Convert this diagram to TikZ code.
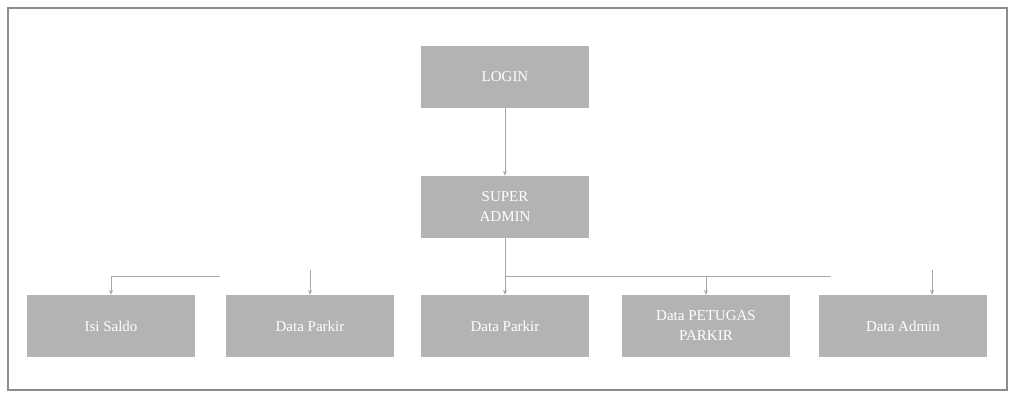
\documentclass[tikz,border=0pt]{standalone}
\usepackage{fontspec}
\setmainfont{Liberation Serif}
\usetikzlibrary{arrows.meta}
\definecolor{boxgray}{HTML}{B3B3B3}
\definecolor{framegray}{HTML}{8C8C8C}
\definecolor{linegray}{HTML}{A8A8A8}
\begin{document}
\begin{tikzpicture}[x=1pt,y=-1pt,
  menubox/.style={draw=none,fill=boxgray,minimum width=168pt,minimum height=62pt,
    inner sep=2pt,text=white,align=center,font=\fontsize{15}{20}\selectfont},
  conn/.style={draw=linegray,line width=0.8pt},
  arr/.style={conn,-{Stealth[length=5pt,width=4pt]}}]
\useasboundingbox (0,0) rectangle (1012,395);
\fill[white] (0,0) rectangle (1012,395);
\draw[framegray,line width=2pt] (8,8) rectangle (1007,390);
\node[menubox] (login) at (505,77) {LOGIN};
\node[menubox] (super) at (505,207) {SUPER\\ADMIN};
\node[menubox] (saldo) at (111,326) {Isi Saldo};
\node[menubox] (parkir1) at (310,326) {Data Parkir};
\node[menubox] (parkir2) at (505,326) {Data Parkir};
\node[menubox] (petugas) at (706,326) {Data PETUGAS\\PARKIR};
\node[menubox] (admin) at (903,326) {Data Admin};
\coordinate (lend) at (220,276);
\coordinate (rend) at (831,276);
\coordinate (p1top) at (310,270);
\coordinate (adtop) at (932,270);
\draw[arr] (login) -- (super);
\draw[arr] (super) -- (parkir2);
\draw[arr] (lend) -| (saldo);
\draw[conn] (super.south |- rend) -- (rend);
\draw[arr] (petugas.north |- rend) -- (petugas);
\draw[arr] (p1top) -- (parkir1);
\draw[arr] (adtop) -- (adtop |- admin.north);
\end{tikzpicture}
\end{document}
